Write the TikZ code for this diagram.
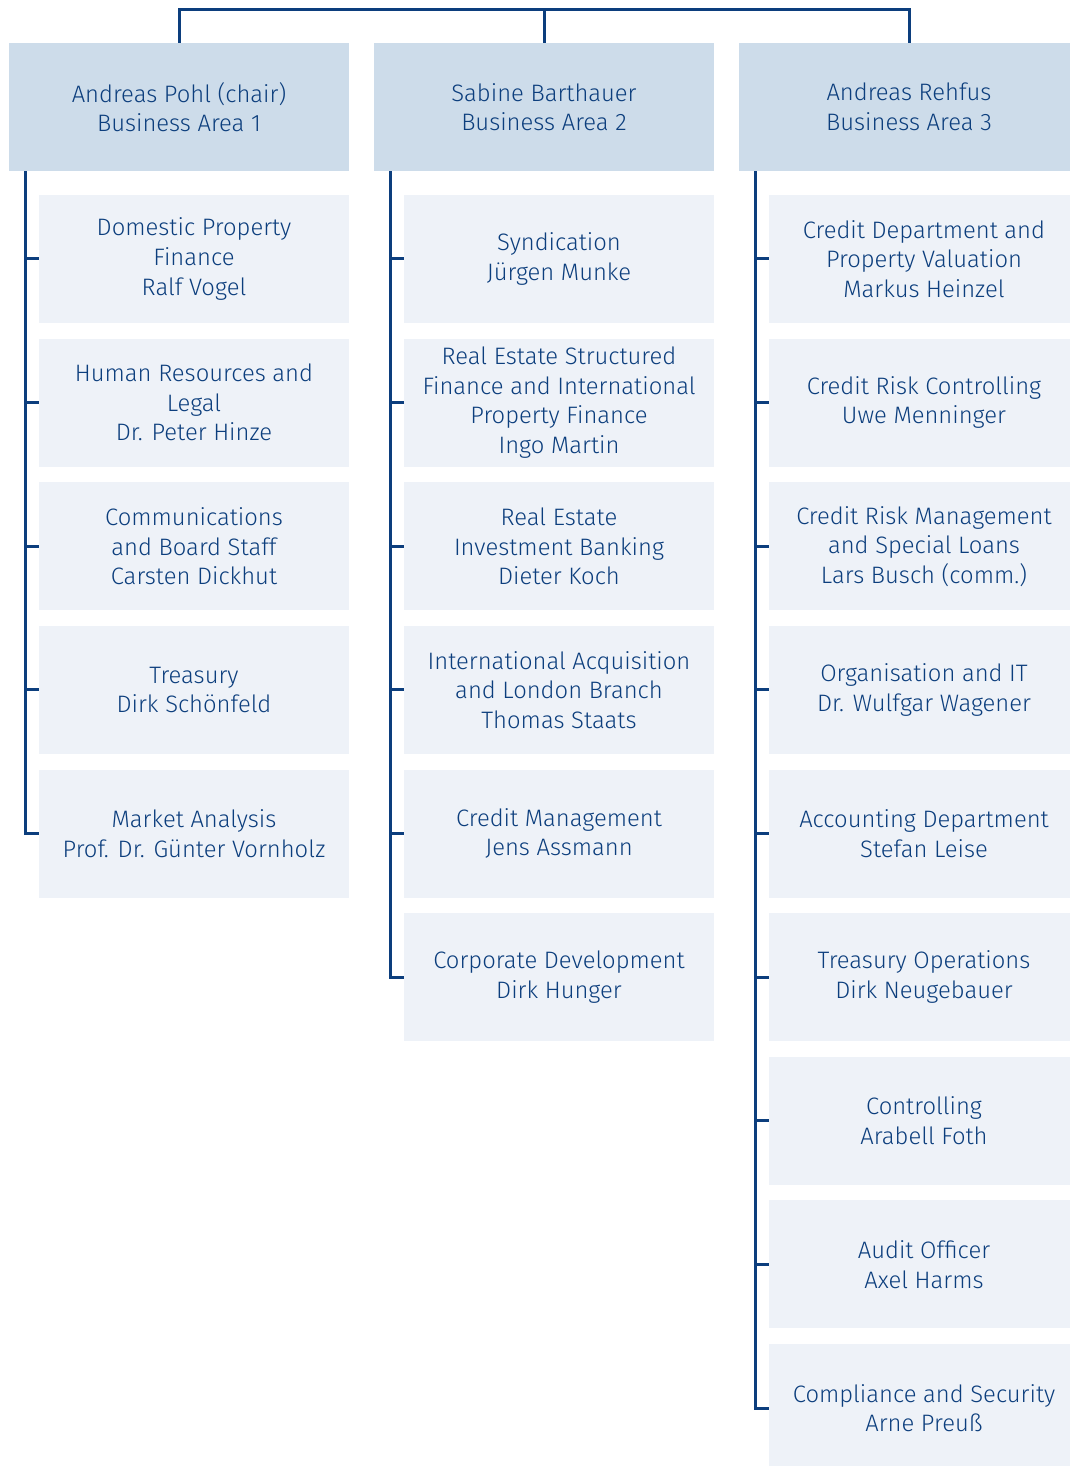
\documentclass[tikz,border=0pt]{standalone}
\usepackage{fontspec}
\setmainfont{Fira Sans Light}
\usepackage{tikz}
\definecolor{hbblue}{RGB}{12,62,125}
\definecolor{hbhead}{RGB}{205,220,234}
\definecolor{hbunit}{RGB}{238,242,248}
\newcommand{\orgfont}{\fontsize{11.9}{14.8}\selectfont}

\begin{document}
\begin{tikzpicture}[x=0.5pt,y=-0.5pt,
    head/.style={fill=hbhead,text=hbblue,minimum width=170pt,minimum height=64pt,
      inner sep=0pt,align=center,font=\orgfont},
    unit/.style={fill=hbunit,text=hbblue,minimum width=155pt,minimum height=64pt,
      inner sep=0pt,align=center,font=\orgfont},
    link/.style={draw=hbblue,line width=1.5pt}]
       \useasboundingbox (0,0) rectangle (1070,1466);
       % board
       \node[head] (h1) at (179,107) {Andreas Pohl (chair)\\Business Area 1};
       \node[head] (h2) at (544,107) {Sabine Barthauer\\Business Area 2};
       \node[head] (h3) at (909,107) {Andreas Rehfus\\Business Area 3};
       \coordinate (top) at (544,10);
       \draw[link] (h1.north) |- (top) -| (h3.north);
       \draw[link] (h2.north) -- (top);
       % business area 1
       \node[unit] (a1) at (194,259) {Domestic Property\\Finance\\Ralf Vogel};
       \node[unit] (a2) at (194,402.6) {Human Resources and\\Legal\\Dr. Peter Hinze};
       \node[unit] (a3) at (194,546.3) {Communications\\and Board Staff\\Carsten Dickhut};
       \node[unit] (a4) at (194,689.9) {Treasury\\Dirk Schönfeld};
       \node[unit] (a5) at (194,833.5) {Market Analysis\\Prof. Dr. Günter Vornholz};
       \coordinate (s1) at (25,171);
       \draw[link] (h1.south -| s1) |- (a5.west);
       \draw[link] (a1.west) -- (a1.west -| s1);
       \draw[link] (a2.west) -- (a2.west -| s1);
       \draw[link] (a3.west) -- (a3.west -| s1);
       \draw[link] (a4.west) -- (a4.west -| s1);
       % business area 2
       \node[unit] (b1) at (559,259) {Syndication\\Jürgen Munke};
       \node[unit] (b2) at (559,402.6) {Real Estate Structured\\Finance and International\\Property Finance\\Ingo Martin};
       \node[unit] (b3) at (559,546.3) {Real Estate\\Investment Banking\\Dieter Koch};
       \node[unit] (b4) at (559,689.9) {International Acquisition\\and London Branch\\Thomas Staats};
       \node[unit] (b5) at (559,833.5) {Credit Management\\Jens Assmann};
       \node[unit] (b6) at (559,977.1) {Corporate Development\\Dirk Hunger};
       \coordinate (s2) at (390,171);
       \draw[link] (h2.south -| s2) |- (b6.west);
       \draw[link] (b1.west) -- (b1.west -| s2);
       \draw[link] (b2.west) -- (b2.west -| s2);
       \draw[link] (b3.west) -- (b3.west -| s2);
       \draw[link] (b4.west) -- (b4.west -| s2);
       \draw[link] (b5.west) -- (b5.west -| s2);
       % business area 3
       \node[unit] (c1) at (924,259) {Credit Department and\\Property Valuation\\Markus Heinzel};
       \node[unit] (c2) at (924,402.6) {Credit Risk Controlling\\Uwe Menninger};
       \node[unit] (c3) at (924,546.3) {Credit Risk Management\\and Special Loans\\Lars Busch (comm.)};
       \node[unit] (c4) at (924,689.9) {Organisation and IT\\Dr. Wulfgar Wagener};
       \node[unit] (c5) at (924,833.5) {Accounting Department\\Stefan Leise};
       \node[unit] (c6) at (924,977.1) {Treasury Operations\\Dirk Neugebauer};
       \node[unit] (c7) at (924,1120.8) {Controlling\\Arabell Foth};
       \node[unit] (c8) at (924,1264.4) {Audit Officer\\Axel Harms};
       \node[unit] (c9) at (924,1408) {Compliance and Security\\Arne Preuß};
       \coordinate (s3) at (755,171);
       \draw[link] (h3.south -| s3) |- (c9.west);
       \draw[link] (c1.west) -- (c1.west -| s3);
       \draw[link] (c2.west) -- (c2.west -| s3);
       \draw[link] (c3.west) -- (c3.west -| s3);
       \draw[link] (c4.west) -- (c4.west -| s3);
       \draw[link] (c5.west) -- (c5.west -| s3);
       \draw[link] (c6.west) -- (c6.west -| s3);
       \draw[link] (c7.west) -- (c7.west -| s3);
       \draw[link] (c8.west) -- (c8.west -| s3);
      \end{tikzpicture}
\end{document}
